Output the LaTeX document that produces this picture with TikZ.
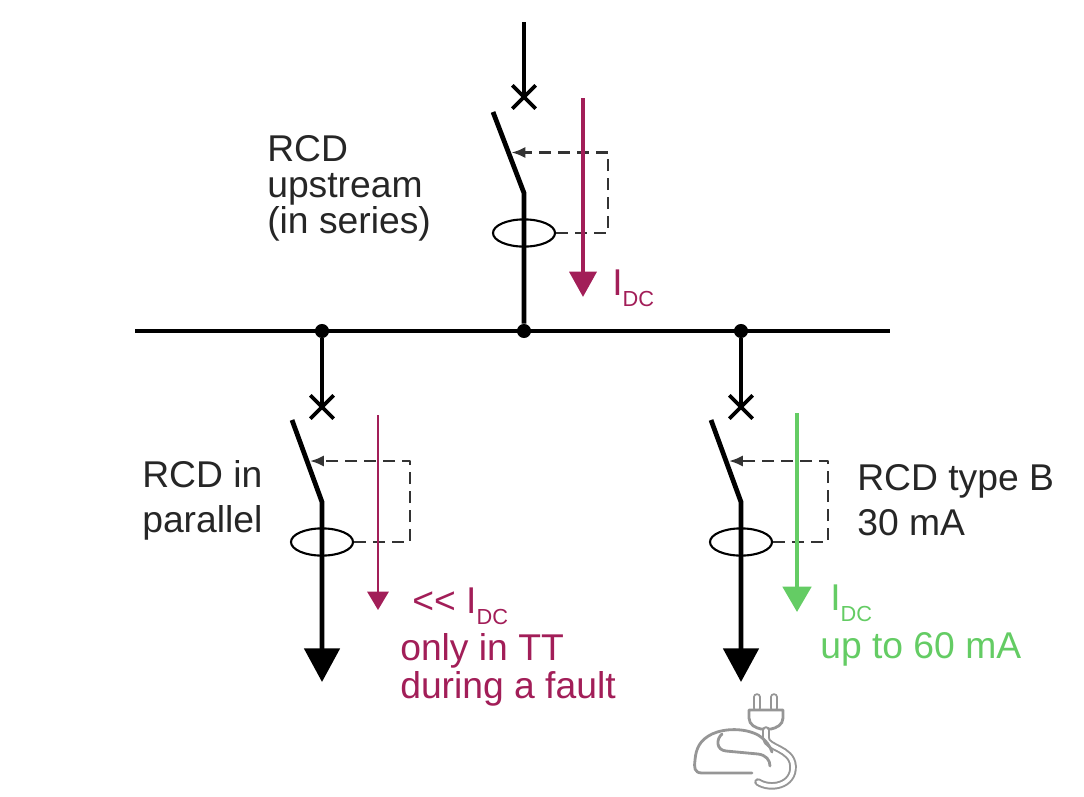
\documentclass[tikz,border=0pt]{standalone}
\usepackage{fontspec}
\setmainfont{Liberation Sans}
\usetikzlibrary{arrows.meta,shapes.geometric,shapes.misc}
\definecolor{fault}{RGB}{162,30,88}
\definecolor{evok}{RGB}{100,204,100}
\definecolor{plug}{RGB}{150,150,150}
\definecolor{ink}{RGB}{38,38,38}
\begin{document}
\begin{tikzpicture}[x=0.025cm,y=-0.025cm,line join=round]
  \tikzstyle{wire}=[line width=3.4pt]
  \tikzstyle{trip}=[dash pattern=on 8.5pt off 5pt,line width=2pt,black!80,shorten >=2pt,-{Latex[length=10pt,width=8pt]}]
  \tikzstyle{junction}=[circle,fill=black,minimum size=10pt,inner sep=0pt]
  \tikzstyle{breaker}=[cross out,draw,line width=2.6pt,minimum size=14pt,inner sep=0pt]
  \tikzstyle{toroid}=[ellipse,draw,line width=1.5pt,minimum width=1.55cm,minimum height=0.68cm,inner sep=0pt]
  \tikzstyle{note}=[anchor=base west,inner sep=0pt,align=left,text=ink,font=\fontsize{26.5}{31.3}\selectfont]
  \tikzstyle{load}=[-{Triangle[length=24pt,width=25pt]}]
  \tikzstyle{icon}=[plug,line width=2pt,line cap=round]
  \tikzstyle{cord}=[plug,line width=1.4pt,double=white,double distance=2.6pt,line cap=round]
  \useasboundingbox (0,0) rectangle (1084,796);

  % busbar
  \coordinate (bus-w) at (135,331);
  \coordinate (bus-e) at (890,331);
  \draw[wire] (bus-w) -- (bus-e);
  \node[junction] (bus-l) at (322,331) {};
  \node[junction] (bus-m) at (524,331) {};
  \node[junction] (bus-r) at (741,331) {};

  % RCD upstream
  \coordinate (up-in) at (524,22);
  \node[breaker] (up-x) at (524,97) {};
  \draw[wire] (up-in) -- (up-x.center);
  \coordinate (up-b1) at (493,112);
  \coordinate (up-b2) at (524,193);
  \draw[wire] (up-b1) -- coordinate[pos=0.5] (up-tr) (up-b2) -- (bus-m);
  \node[toroid] (up-ct) at (524,233) {};
  \coordinate (up-cn) at (608,233);
  \draw[trip] (up-ct.east) -- (up-cn) |- (up-tr);
  \coordinate (up-i1) at (583,98);
  \coordinate (up-i2) at (583,297);
  \draw[fault,line width=3.2pt,-{Triangle[length=18pt,width=19pt]}] (up-i1) -- (up-i2);
  \node[note,font=\fontsize{26.5}{25.3}\selectfont] (up-txt) at (267,233) {RCD\\upstream\\(in series)};
  \node[note,text=fault] (up-idc) at (612,295) {I\raisebox{-8.5pt}{\fontsize{15.5}{16}\selectfont DC}};

  % RCD in parallel
  \node[breaker] (pl-x) at (322,407) {};
  \draw[wire] (bus-l) -- (pl-x.center);
  \coordinate (pl-b1) at (292,420);
  \coordinate (pl-b2) at (322,502);
  \coordinate (pl-out) at (322,682);
  \draw[wire,load] (pl-b1) -- coordinate[pos=0.5] (pl-tr) (pl-b2) -- (pl-out);
  \node[toroid] (pl-ct) at (322,542) {};
  \coordinate (pl-cn) at (410,542);
  \draw[trip] (pl-ct.east) -- (pl-cn) |- (pl-tr);
  \coordinate (pl-i1) at (378,415);
  \coordinate (pl-i2) at (378,610);
  \draw[fault,line width=1.8pt,-{Triangle[length=13pt,width=15pt]}] (pl-i1) -- (pl-i2);
  \node[note] (pl-txt) at (142,532) {RCD in\\parallel};
  \node[note,text=fault] (pl-idc) at (412,613) {<{}< I\raisebox{-8.5pt}{\fontsize{15.5}{16}\selectfont DC}};
  \node[note,text=fault,font=\fontsize{26.5}{27}\selectfont] (pl-note) at (400,698) {only in TT\\during a fault};

  % RCD type B for the charger
  \node[breaker] (ev-x) at (741,407) {};
  \draw[wire] (bus-r) -- (ev-x.center);
  \coordinate (ev-b1) at (711,420);
  \coordinate (ev-b2) at (741,502);
  \coordinate (ev-out) at (741,682);
  \draw[wire,load] (ev-b1) -- coordinate[pos=0.5] (ev-tr) (ev-b2) -- (ev-out);
  \node[toroid] (ev-ct) at (741,542) {};
  \coordinate (ev-cn) at (828,542);
  \draw[trip] (ev-ct.east) -- (ev-cn) |- (ev-tr);
  \coordinate (ev-i1) at (797,413);
  \coordinate (ev-i2) at (797,612);
  \draw[evok,line width=3.2pt,-{Triangle[length=18pt,width=20pt]}] (ev-i1) -- (ev-i2);
  \node[note] (ev-txt) at (857,535) {RCD type B\\30 mA};
  \node[note,text=evok] (ev-idc) at (830,610) {I\raisebox{-8.5pt}{\fontsize{15.5}{16}\selectfont DC}};
  \node[note,text=evok] (ev-note) at (820,658) {up to 60 mA};

  % charging car
  \draw[cord] (757,708) -- (757,697);
  \draw[cord] (774,708) -- (774,697);
  \draw[icon,fill=white] (749,710) -- (783,710) -- (783,718) .. controls (783,725) and (776,728) .. (771,729)
    -- (761,729) .. controls (756,728) and (749,725) .. (749,718) -- cycle;
  \draw[cord] (766,730) -- (766,738) .. controls (766,748) and (792,748) .. (793,766)
    .. controls (794,786) and (770,790) .. (758,782);
  \draw[icon] (752,773) -- (702,773) .. controls (694,773) and (694,767) .. (695,760)
    .. controls (696,748) and (700,740) .. (712,734) .. controls (725,728) and (745,728) .. (758,735)
    .. controls (766,740) and (770,746) .. (772,752);
  \draw[icon] (722,734) .. controls (716,739) and (716,750) .. (726,751) -- (758,754)
    .. controls (766,755) and (770,760) .. (770,766);

\end{tikzpicture}
\end{document}
